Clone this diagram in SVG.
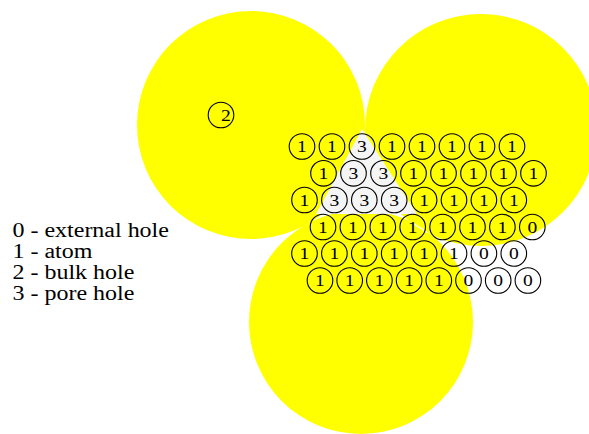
<svg xmlns="http://www.w3.org/2000/svg" width="589" height="434" viewBox="0 0 589 434">
<style>
.disk{fill:#ffff00;fill-rule:evenodd;stroke:none}
.pore{fill:#f5f5f5;stroke:none}
.site{fill:none;stroke:#000;stroke-width:1.1}
.d{font-family:"Liberation Serif","Times New Roman",serif;font-size:17px;fill:#000;text-anchor:middle}
.leg{font-family:"Liberation Serif","Times New Roman",serif;font-size:20.5px;fill:#000}
</style>
<rect width="589" height="434" fill="#fff"/>
<g id="disks">
<path class="disk" d="M137,125 a114,114 0 1,0 228,0 a114,114 0 1,0 -228,0 Z M365,130 a116,116 0 1,0 232,0 a116,116 0 1,0 -232,0 Z M249,322 a112,112 0 1,0 224,0 a112,112 0 1,0 -224,0 Z"/>
</g>
<g id="pore-region">
<polygon class="pore" points="362,129 417,214 316,214"/>
</g>
<g id="legend">
<text class="leg" transform="matrix(1.17 0 0 1 12.5 237)">0 - external hole</text>
<text class="leg" transform="matrix(1.17 0 0 1 12.5 258)">1 - atom</text>
<text class="leg" transform="matrix(1.17 0 0 1 12.5 279)">2 - bulk hole</text>
<text class="leg" transform="matrix(1.17 0 0 1 12.5 300)">3 - pore hole</text>
</g>
<g id="bulk-hole"><circle class="site" cx="221" cy="115" r="12.8"/><text class="d" transform="matrix(1.15 0 0 1 226 120.8)">2</text></g>
<g id="r1c1"><circle class="site" cx="302" cy="146.5" r="12.8"/><text class="d" transform="matrix(1.15 0 0 1 302 152.3)">1</text></g>
<g id="r1c2"><circle class="site" cx="332" cy="146.5" r="12.8"/><text class="d" transform="matrix(1.15 0 0 1 332 152.3)">1</text></g>
<g id="r1c3"><circle class="site" cx="362" cy="146.5" r="12.8"/><text class="d" transform="matrix(1.15 0 0 1 362 152.3)">3</text></g>
<g id="r1c4"><circle class="site" cx="392" cy="146.5" r="12.8"/><text class="d" transform="matrix(1.15 0 0 1 392 152.3)">1</text></g>
<g id="r1c5"><circle class="site" cx="422" cy="146.5" r="12.8"/><text class="d" transform="matrix(1.15 0 0 1 422 152.3)">1</text></g>
<g id="r1c6"><circle class="site" cx="452" cy="146.5" r="12.8"/><text class="d" transform="matrix(1.15 0 0 1 452 152.3)">1</text></g>
<g id="r1c7"><circle class="site" cx="482" cy="146.5" r="12.8"/><text class="d" transform="matrix(1.15 0 0 1 482 152.3)">1</text></g>
<g id="r1c8"><circle class="site" cx="512" cy="146.5" r="12.8"/><text class="d" transform="matrix(1.15 0 0 1 512 152.3)">1</text></g>
<g id="r2c1"><circle class="site" cx="323.5" cy="173.3" r="12.8"/><text class="d" transform="matrix(1.15 0 0 1 323.5 179.1)">1</text></g>
<g id="r2c2"><circle class="site" cx="353.5" cy="173.3" r="12.8"/><text class="d" transform="matrix(1.15 0 0 1 353.5 179.1)">3</text></g>
<g id="r2c3"><circle class="site" cx="383.5" cy="173.3" r="12.8"/><text class="d" transform="matrix(1.15 0 0 1 383.5 179.1)">3</text></g>
<g id="r2c4"><circle class="site" cx="413.5" cy="173.3" r="12.8"/><text class="d" transform="matrix(1.15 0 0 1 413.5 179.1)">1</text></g>
<g id="r2c5"><circle class="site" cx="443.5" cy="173.3" r="12.8"/><text class="d" transform="matrix(1.15 0 0 1 443.5 179.1)">1</text></g>
<g id="r2c6"><circle class="site" cx="473.5" cy="173.3" r="12.8"/><text class="d" transform="matrix(1.15 0 0 1 473.5 179.1)">1</text></g>
<g id="r2c7"><circle class="site" cx="503.5" cy="173.3" r="12.8"/><text class="d" transform="matrix(1.15 0 0 1 503.5 179.1)">1</text></g>
<g id="r2c8"><circle class="site" cx="533.5" cy="173.3" r="12.8"/><text class="d" transform="matrix(1.15 0 0 1 533.5 179.1)">1</text></g>
<g id="r3c1"><circle class="site" cx="304.5" cy="200" r="12.8"/><text class="d" transform="matrix(1.15 0 0 1 304.5 205.8)">1</text></g>
<g id="r3c2"><circle class="site" cx="334.4" cy="200" r="12.8"/><text class="d" transform="matrix(1.15 0 0 1 334.4 205.8)">3</text></g>
<g id="r3c3"><circle class="site" cx="364.3" cy="200" r="12.8"/><text class="d" transform="matrix(1.15 0 0 1 364.3 205.8)">3</text></g>
<g id="r3c4"><circle class="site" cx="394.2" cy="200" r="12.8"/><text class="d" transform="matrix(1.15 0 0 1 394.2 205.8)">3</text></g>
<g id="r3c5"><circle class="site" cx="424.1" cy="200" r="12.8"/><text class="d" transform="matrix(1.15 0 0 1 424.1 205.8)">1</text></g>
<g id="r3c6"><circle class="site" cx="454" cy="200" r="12.8"/><text class="d" transform="matrix(1.15 0 0 1 454 205.8)">1</text></g>
<g id="r3c7"><circle class="site" cx="483.9" cy="200" r="12.8"/><text class="d" transform="matrix(1.15 0 0 1 483.9 205.8)">1</text></g>
<g id="r3c8"><circle class="site" cx="513.8" cy="200" r="12.8"/><text class="d" transform="matrix(1.15 0 0 1 513.8 205.8)">1</text></g>
<g id="r4c1"><circle class="site" cx="323" cy="227" r="12.8"/><text class="d" transform="matrix(1.15 0 0 1 323 232.8)">1</text></g>
<g id="r4c2"><circle class="site" cx="352.9" cy="227" r="12.8"/><text class="d" transform="matrix(1.15 0 0 1 352.9 232.8)">1</text></g>
<g id="r4c3"><circle class="site" cx="382.8" cy="227" r="12.8"/><text class="d" transform="matrix(1.15 0 0 1 382.8 232.8)">1</text></g>
<g id="r4c4"><circle class="site" cx="412.7" cy="227" r="12.8"/><text class="d" transform="matrix(1.15 0 0 1 412.7 232.8)">1</text></g>
<g id="r4c5"><circle class="site" cx="442.6" cy="227" r="12.8"/><text class="d" transform="matrix(1.15 0 0 1 442.6 232.8)">1</text></g>
<g id="r4c6"><circle class="site" cx="472.5" cy="227" r="12.8"/><text class="d" transform="matrix(1.15 0 0 1 472.5 232.8)">1</text></g>
<g id="r4c7"><circle class="site" cx="502.4" cy="227" r="12.8"/><text class="d" transform="matrix(1.15 0 0 1 502.4 232.8)">1</text></g>
<g id="r4c8"><circle class="site" cx="532.3" cy="227" r="12.8"/><text class="d" transform="matrix(1.15 0 0 1 532.3 232.8)">0</text></g>
<g id="r5c1"><circle class="site" cx="304.5" cy="253.5" r="12.8"/><text class="d" transform="matrix(1.15 0 0 1 304.5 259.3)">1</text></g>
<g id="r5c2"><circle class="site" cx="334.4" cy="253.5" r="12.8"/><text class="d" transform="matrix(1.15 0 0 1 334.4 259.3)">1</text></g>
<g id="r5c3"><circle class="site" cx="364.3" cy="253.5" r="12.8"/><text class="d" transform="matrix(1.15 0 0 1 364.3 259.3)">1</text></g>
<g id="r5c4"><circle class="site" cx="394.2" cy="253.5" r="12.8"/><text class="d" transform="matrix(1.15 0 0 1 394.2 259.3)">1</text></g>
<g id="r5c5"><circle class="site" cx="424.1" cy="253.5" r="12.8"/><text class="d" transform="matrix(1.15 0 0 1 424.1 259.3)">1</text></g>
<g id="r5c6"><circle class="site" cx="454" cy="253.5" r="12.8"/><text class="d" transform="matrix(1.15 0 0 1 454 259.3)">1</text></g>
<g id="r5c7"><circle class="site" cx="483.9" cy="253.5" r="12.8"/><text class="d" transform="matrix(1.15 0 0 1 483.9 259.3)">0</text></g>
<g id="r5c8"><circle class="site" cx="513.8" cy="253.5" r="12.8"/><text class="d" transform="matrix(1.15 0 0 1 513.8 259.3)">0</text></g>
<g id="r6c1"><circle class="site" cx="320" cy="280.5" r="12.8"/><text class="d" transform="matrix(1.15 0 0 1 320 286.3)">1</text></g>
<g id="r6c2"><circle class="site" cx="349.7" cy="280.5" r="12.8"/><text class="d" transform="matrix(1.15 0 0 1 349.7 286.3)">1</text></g>
<g id="r6c3"><circle class="site" cx="379.4" cy="280.5" r="12.8"/><text class="d" transform="matrix(1.15 0 0 1 379.4 286.3)">1</text></g>
<g id="r6c4"><circle class="site" cx="409.1" cy="280.5" r="12.8"/><text class="d" transform="matrix(1.15 0 0 1 409.1 286.3)">1</text></g>
<g id="r6c5"><circle class="site" cx="438.8" cy="280.5" r="12.8"/><text class="d" transform="matrix(1.15 0 0 1 438.8 286.3)">1</text></g>
<g id="r6c6"><circle class="site" cx="468.5" cy="280.5" r="12.8"/><text class="d" transform="matrix(1.15 0 0 1 468.5 286.3)">0</text></g>
<g id="r6c7"><circle class="site" cx="498.2" cy="280.5" r="12.8"/><text class="d" transform="matrix(1.15 0 0 1 498.2 286.3)">0</text></g>
<g id="r6c8"><circle class="site" cx="527.9" cy="280.5" r="12.8"/><text class="d" transform="matrix(1.15 0 0 1 527.9 286.3)">0</text></g>
<g id="connectors"/>
</svg>
